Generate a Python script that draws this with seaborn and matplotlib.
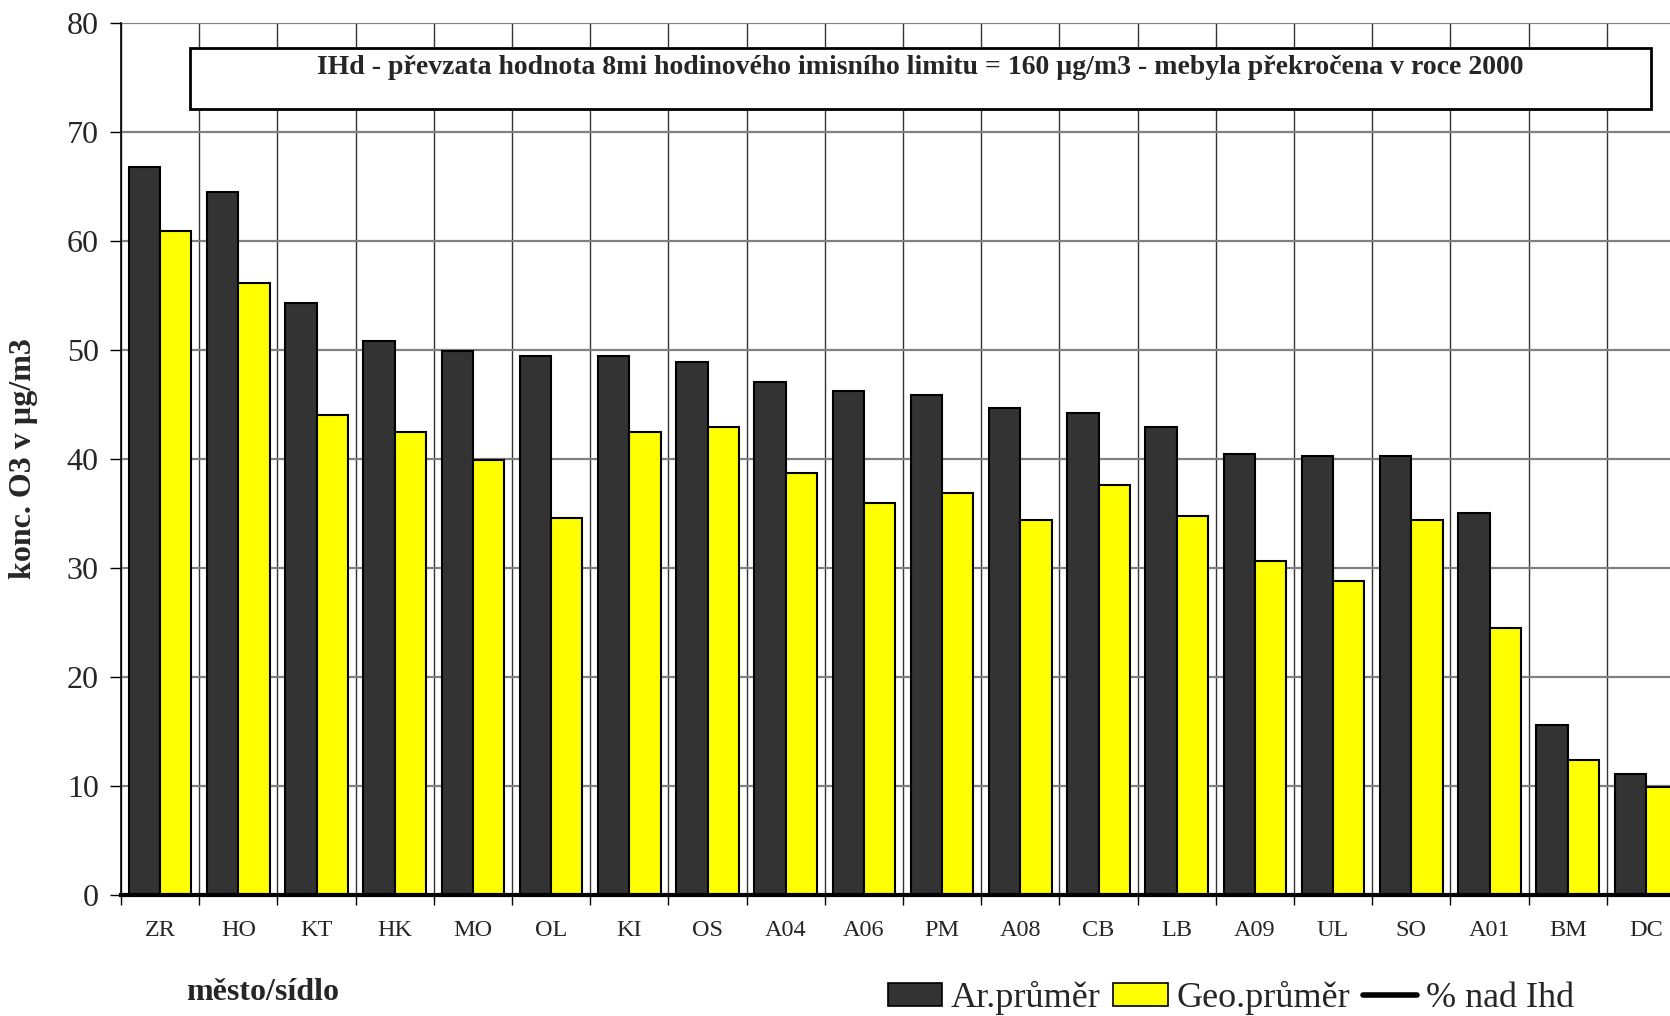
import numpy as np
import pandas as pd
import matplotlib
matplotlib.use('Agg')
import matplotlib.pyplot as plt
from matplotlib.lines import Line2D
import seaborn as sns

# Data
mesta = ['ZR', 'HO', 'KT', 'HK', 'MO', 'OL', 'KI', 'OS', 'A04', 'A06',
         'PM', 'A08', 'CB', 'LB', 'A09', 'UL', 'SO', 'A01', 'BM', 'DC']
ar_prumer = [66.8, 64.5, 54.3, 50.8, 49.9, 49.5, 49.5, 48.9, 47.1, 46.2,
             45.9, 44.7, 44.2, 42.9, 40.5, 40.3, 40.3, 35.0, 15.6, 11.1]
geo_prumer = [60.9, 56.2, 44.0, 42.5, 39.9, 34.6, 42.5, 42.9, 38.7, 36.0,
              36.9, 34.4, 37.6, 34.8, 30.6, 28.8, 34.4, 24.5, 12.4, 9.9]
y_ticks = [0, 10, 20, 30, 40, 50, 60, 70, 80]
nadpis = 'IHd - převzata hodnota 8mi hodinového imisního limitu = 160 µg/m3 - mebyla překročena v roce 2000'

df = pd.DataFrame({
    'mesto': mesta * 2,
    'hodnota': ar_prumer + geo_prumer,
    'serie': ['Ar.průměr'] * len(mesta) + ['Geo.průměr'] * len(mesta),
})

sns.set_style('white')
plt.rcParams['font.family'] = ['Liberation Serif', 'DejaVu Serif']

fig = plt.figure(figsize=(16.7, 10.16), dpi=100)
ax = fig.add_axes([0.0725, 0.1195, 0.9365, 0.8575])

sns.barplot(data=df, x='mesto', y='hodnota', hue='serie', order=mesta,
            palette={'Ar.průměr': '#333333', 'Geo.průměr': '#FFFF00'},
            width=0.8, edgecolor='black', linewidth=1.5, saturation=1,
            ax=ax, legend=False, zorder=3)

ax.set_xlim(-0.5, len(mesta) - 0.5)
ax.set_ylim(0, 80)
ax.set_yticks(y_ticks)
ax.set_xticks(np.arange(-0.5, len(mesta), 1.0), minor=True)

# mrizka
ax.grid(axis='y', which='major', color='#808080', linewidth=1.6, zorder=0)
ax.grid(axis='x', which='minor', color='#333333', linewidth=1.0, zorder=0)
ax.grid(axis='x', which='major', visible=False)
ax.set_axisbelow(True)

ax.tick_params(axis='x', which='major', length=0, labelsize=17.5, pad=18)
ax.tick_params(axis='x', which='minor', length=7, width=1, color='black',
               direction='out', bottom=True)
ax.tick_params(axis='y', length=8, width=1, color='black', labelsize=23,
               direction='out', left=True, pad=8)

for s in ['top', 'right']:
    ax.spines[s].set_visible(False)
ax.spines['left'].set_color('black')
ax.spines['left'].set_linewidth(1.2)
ax.spines['bottom'].set_color('black')
ax.spines['bottom'].set_linewidth(3)
ax.spines['bottom'].set_zorder(5)

ax.set_xlabel('')
ax.set_ylabel('konc. O3 v µg/m3', fontsize=23, fontweight='bold')
ax.yaxis.set_label_coords(-0.053, 0.5)

fig.text(186 / 1670, 1 - 992 / 1016, 'město/sídlo', fontsize=23, fontweight='bold',
         ha='left', va='center')

# ramecek s popisem
box = plt.Rectangle((190 / 1670, 1 - 109 / 1016), (1651 - 190) / 1670, 61 / 1016,
                    transform=fig.transFigure, facecolor='white', edgecolor='black',
                    linewidth=2, zorder=5)
fig.patches.append(box)
fig.text(920 / 1670, 1 - 68 / 1016, nadpis, fontsize=20, fontweight='bold',
         ha='center', va='center', zorder=6)

# legenda
handles = [plt.Rectangle((0, 0), 1, 1, facecolor='#333333', edgecolor='black', linewidth=1.2),
           plt.Rectangle((0, 0), 1, 1, facecolor='#FFFF00', edgecolor='black', linewidth=1.2),
           Line2D([0], [0], color='black', linewidth=4)]
fig.legend(handles, ['Ar.průměr', 'Geo.průměr', '% nad Ihd'], loc='center',
           bbox_to_anchor=(1231 / 1670, 1 - 998 / 1016), ncol=3, frameon=False,
           fontsize=26, handlelength=1.5, handleheight=0.6, handletextpad=0.25,
           columnspacing=0.35, borderaxespad=0)

fig.savefig('out.png', dpi=100)
